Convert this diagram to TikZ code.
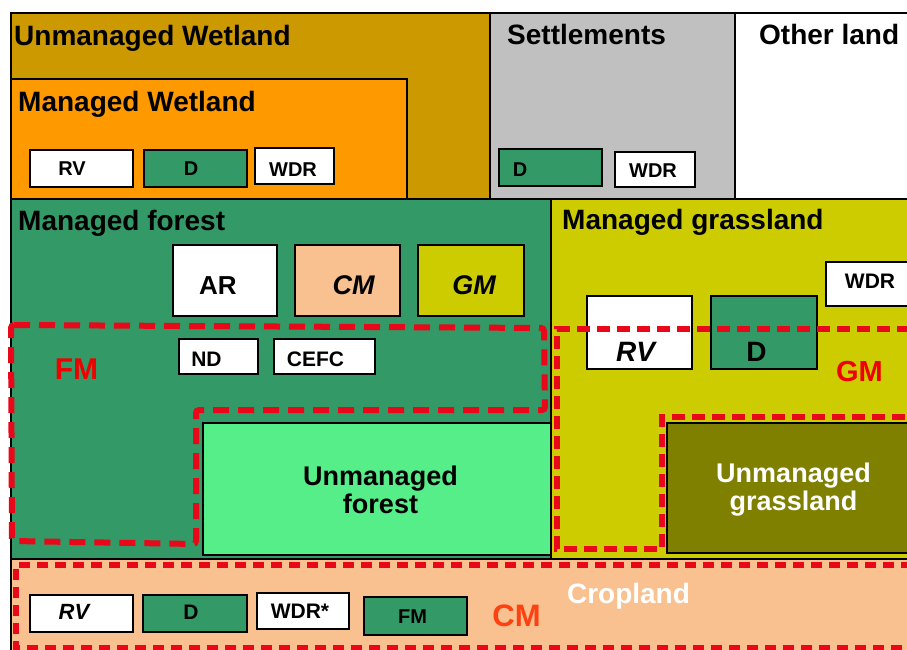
\documentclass[tikz,border=0pt]{standalone}
\usepackage{fontspec}
\setmainfont{Liberation Sans}
\definecolor{wetU}{HTML}{CC9900}
\definecolor{wetM}{HTML}{FF9900}
\definecolor{settle}{HTML}{C0C0C0}
\definecolor{forestM}{HTML}{339966}
\definecolor{forestU}{HTML}{55EE88}
\definecolor{grassM}{HTML}{CCCC00}
\definecolor{grassU}{HTML}{808000}
\definecolor{crop}{HTML}{F9C090}
\definecolor{dashred}{HTML}{E8081A}
\definecolor{lblred}{HTML}{F00000}
\definecolor{cmred}{HTML}{FF4010}
\tikzset{
  region/.style={draw=black, line width=2pt},
  tagbox/.style={draw=black, line width=1.8pt},
  heavybox/.style={draw=black, line width=2.8pt},
  head/.style={anchor=base west, inner sep=0pt, font=\fontsize{28}{28}\selectfont\bfseries},
  tagtxt/.style={inner sep=0pt, font=\fontsize{#1}{#1}\selectfont\bfseries},
  tagtxt/.default=20,
  tagital/.style={inner sep=0pt, font=\fontsize{#1}{#1}\selectfont\bfseries\itshape},
  tagital/.default=26,
  bigtxt/.style={inner sep=0pt, align=center, font=\fontsize{27}{28}\selectfont\bfseries},
  zonetxt/.style={anchor=base, inner sep=0pt, font=\fontsize{#1}{#1}\selectfont\bfseries},
  fmzone/.style={draw=dashred, line width=6pt, dash pattern=on 16pt off 9pt, rounded corners=3pt},
  gmzone/.style={draw=dashred, line width=5.5pt, dash pattern=on 13pt off 7pt},
  cmzone/.style={draw=dashred, line width=5.5pt, dash pattern=on 11pt off 7pt},
}
\begin{document}
\begin{tikzpicture}[x=1pt,y=-1pt]
\useasboundingbox (0,0) rectangle (907,650);
\fill[white] (0,0) rectangle (907,650);
\begin{scope}
\clip (0,0) rectangle (907,650);
% land-use categories
\draw[region, fill=wetU]   (11,13)   rectangle (490,199);
\draw[region, fill=settle] (490,13)  rectangle (735,199);
\draw[region, fill=white]  (735,13)  rectangle (930,199);
\draw[region, fill=wetM]   (11,79)   rectangle (407,199);
\draw[region, fill=forestM] (11,199) rectangle (551,559);
\draw[region, fill=grassM] (551,199) rectangle (930,559);
\draw[region, fill=forestU] (203,423) rectangle (551,555);
\draw[region, fill=grassU] (667,423) rectangle (930,553);
\draw[region, fill=crop]   (11,559)  rectangle (930,680);

% headings
\node[head] (uwet) at (14,46) {Unmanaged Wetland};
\node[head] (mwet) at (18,112) {Managed Wetland};
\node[head] (settl) at (507,45) {Settlements};
\node[head] (other) at (759,45) {Other land};
\node[head] (mfor) at (18,230) {Managed forest};
\node[head] (mgra) at (562,229) {Managed grassland};

% managed wetland activities
\draw[tagbox, fill=white]   (30,150)  rectangle (133,187);
\node[tagtxt=20] (wRV) at (72,168.5) {RV};
\draw[tagbox, fill=forestM] (144,150) rectangle (247,187);
\node[tagtxt=20] (wD) at (191,168.5) {D};
\draw[tagbox, fill=white]   (255,148) rectangle (334,184);
\node[tagtxt=20] (wWDR) at (293,169.5) {WDR};

% settlements activities
\draw[heavybox, fill=forestM] (499,149) rectangle (602,186);
\node[tagtxt=20] (sD) at (520,170) {D};
\draw[tagbox, fill=white]   (615,152) rectangle (695,187);
\node[tagtxt=20] (sWDR) at (653,170.5) {WDR};

% managed forest activities
\draw[tagbox, fill=white]   (173,245) rectangle (277,316);
\node[tagtxt=26] (fAR) at (218,285.5) {AR};
\draw[tagbox, fill=crop]    (295,245) rectangle (400,316);
\node[tagital=27] (fCM) at (353.5,285.5) {CM};
\draw[tagbox, fill=grassM]  (418,245) rectangle (524,316);
\node[tagital=27] (fGM) at (474,285.5) {GM};
\draw[tagbox, fill=white]   (179,339) rectangle (258,374);
\node[tagtxt=21] (fND) at (206.5,359) {ND};
\draw[tagbox, fill=white]   (274,339) rectangle (375,374);
\node[tagtxt=21] (fCEFC) at (315.5,359) {CEFC};
\node[bigtxt] (uforest) at (380.5,490) {Unmanaged\\forest};

% forest management zone
\draw[fmzone] (11,325) -- (544,328) -- (545,410) -- (196,410) -- (196,544) -- (12,541) -- cycle;
\node[zonetxt=30, text=lblred] (fmlbl) at (76.5,379) {FM};

% managed grassland activities
\draw[tagbox, fill=white]   (826,262) rectangle (915,306);
\node[tagtxt=21] (gWDR) at (870,281) {WDR};
\draw[tagbox, fill=white]   (587,296) rectangle (692,369);
\node[tagital=28] (gRV) at (635.5,351.7) {RV};
\draw[tagbox, fill=forestM] (711,296) rectangle (817,369);
\node[tagtxt=28] (gD) at (756.5,352) {D};
\node[bigtxt, text=white] (ugrass) at (793.5,490) {Unmanaged\\grassland};

% grazing land management zone
\draw[gmzone] (930,329) -- (557,329) -- (557,549) -- (662,549) -- (662,417) -- (930,417);
\node[zonetxt=29, text=lblred] (gmlbl) at (859.5,381) {GM};

% cropland
\draw[cmzone] (930,565) -- (16,565) -- (16,648) -- (930,648);
\draw[tagbox, fill=white]   (30,595)  rectangle (133,632);
\node[tagital=22] (cRV) at (74,611.5) {RV};
\draw[tagbox, fill=forestM] (143,595) rectangle (247,632);
\node[tagtxt=21] (cD) at (191,612.5) {D};
\draw[tagbox, fill=white]   (257,593) rectangle (349,629);
\node[tagtxt=21] (cWDR) at (300,611.5) {WDR*};
\draw[heavybox, fill=forestM] (364,597) rectangle (467,635);
\node[tagtxt=20] (cFM) at (412.5,617) {FM};
\node[zonetxt=31, text=cmred] (cmlbl) at (516.5,626) {CM};
\node[zonetxt=28, text=white] (croplbl) at (628.5,603) {Cropland};
\end{scope}
\end{tikzpicture}
\end{document}
